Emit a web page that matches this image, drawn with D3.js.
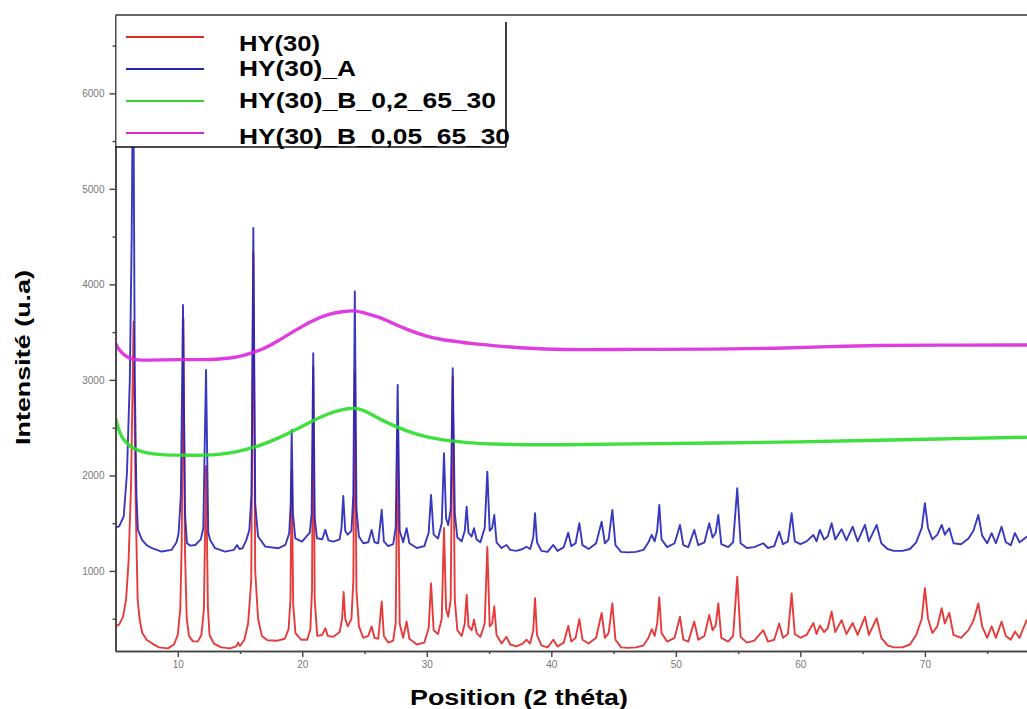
<!DOCTYPE html>
<html>
<head>
<meta charset="utf-8">
<script src="https://cdn.jsdelivr.net/npm/d3@7"></script>
<style>
  html, body { margin: 0; padding: 0; background: #fff; }
  svg { display: block; }
  text { font-family: "Liberation Sans", Arial, sans-serif; }
</style>
</head>
<body>
<svg id="chart" width="1027" height="709"></svg>
<script>
// XRD patterns, 2θ (degrees) vs intensity (a.u.)
const seriesNames = ["HY(30)", "HY(30)_A", "HY(30)_B_0,2_65_30", "HY(30)_B_0,05_65_30"];
const seriesColors = ["#e32626", "#2424b8", "#2bdc2b", "#dc28dc"];

const hy30 = [
  [5.0,420],[5.3,440],[5.6,520],[5.85,700],[6.05,1100],[6.25,1900],[6.45,3610],[6.62,1700],[6.78,700],[6.95,480],
  [7.15,350],[7.5,280],[7.95,240],[8.5,200],[9.2,190],[9.7,230],[10.0,330],[10.2,600],[10.32,1300],[10.45,3640],
  [10.58,1200],[10.72,500],[10.9,320],[11.2,265],[11.6,260],[11.9,330],[12.1,600],[12.27,2100],[12.42,620],[12.55,330],
  [12.9,240],[13.5,200],[14.2,190],[14.7,210],[14.85,250],[15.0,215],[15.35,280],[15.65,450],[15.9,900],[16.07,4330],
  [16.22,1000],[16.45,500],[16.75,320],[17.2,275],[18.0,270],[18.6,290],[18.9,390],[19.05,700],[19.15,2050],[19.27,650],
  [19.45,350],[19.9,280],[20.4,280],[20.65,390],[20.78,800],[20.88,3140],[21.0,700],[21.2,320],[21.6,330],[21.85,400],
  [22.05,320],[22.5,310],[23.0,360],[23.2,500],[23.32,780],[23.45,500],[23.65,420],[23.95,500],[24.1,900],[24.22,3090],
  [24.35,800],[24.55,420],[24.9,300],[25.3,320],[25.57,420],[25.8,300],[26.1,290],[26.38,680],[26.55,320],[26.9,250],
  [27.3,270],[27.5,450],[27.66,2480],[27.82,450],[28.1,300],[28.38,470],[28.6,290],[29.2,230],[29.8,250],[30.15,400],
  [30.34,870],[30.55,380],[30.9,340],[31.2,500],[31.38,1450],[31.55,600],[31.72,520],[31.92,700],[32.08,3030],[32.25,700],
  [32.45,380],[32.8,320],[33.05,450],[33.2,750],[33.35,420],[33.6,380],[33.79,490],[34.0,350],[34.3,310],[34.65,450],
  [34.86,1250],[35.05,420],[35.25,450],[35.42,630],[35.6,330],[36.0,240],[36.4,310],[36.7,230],[37.2,210],[37.7,240],
  [38.0,280],[38.3,240],[38.55,380],[38.69,715],[38.85,330],[39.2,220],[39.7,200],[40.16,280],[40.5,210],[41.0,250],
  [41.36,425],[41.6,260],[41.95,300],[42.25,495],[42.5,280],[43.0,240],[43.6,300],[44.04,560],[44.3,300],[44.6,350],
  [44.9,660],[45.15,280],[45.6,200],[46.2,195],[46.8,200],[47.4,220],[47.8,300],[48.06,390],[48.3,320],[48.5,450],
  [48.67,725],[48.85,350],[49.3,260],[49.9,300],[50.33,520],[50.6,280],[51.0,260],[51.48,470],[51.8,280],[52.3,320],
  [52.68,540],[52.95,380],[53.2,430],[53.41,660],[53.65,300],[54.2,260],[54.6,320],[54.93,940],[55.2,310],[55.7,250],
  [56.3,270],[57.02,380],[57.4,260],[57.9,280],[58.3,450],[58.6,300],[59.0,340],[59.3,765],[59.55,340],[60.0,300],
  [60.5,330],[61.04,455],[61.3,340],[61.57,430],[61.9,360],[62.2,400],[62.51,575],[62.8,360],[63.31,485],[63.7,340],
  [64.2,455],[64.6,330],[65.19,520],[65.5,330],[66.13,505],[66.5,300],[67.0,220],[67.5,200],[68.2,200],[68.8,230],
  [69.3,330],[69.75,500],[70.0,820],[70.25,500],[70.6,350],[71.0,420],[71.35,610],[71.6,450],[71.96,560],[72.3,330],
  [72.9,300],[73.5,380],[73.9,480],[74.29,660],[74.6,420],[75.0,300],[75.36,420],[75.7,300],[76.16,470],[76.5,320],
  [76.9,280],[77.23,365],[77.6,300],[77.9,400],[78.2,490]
];

const hy30A = [
  [5.0,1450],[5.3,1470],[5.66,1570],[5.92,2025],[6.15,3000],[6.3,4500],[6.42,6600],[6.55,3000],[6.68,1800],[6.8,1430],
  [7.13,1325],[7.5,1270],[7.93,1238],[8.7,1203],[9.5,1220],[9.9,1300],[10.07,1395],[10.25,1800],[10.42,3785],[10.58,1600],
  [10.74,1290],[11.0,1265],[11.41,1272],[11.85,1330],[12.05,1450],[12.27,3105],[12.45,1400],[12.6,1325],[13.0,1238],[13.8,1203],
  [14.5,1220],[14.76,1272],[14.95,1230],[15.2,1238],[15.5,1320],[15.75,1430],[15.92,1800],[16.07,4590],[16.22,1700],[16.45,1360],
  [17.03,1255],[18.1,1238],[18.64,1272],[18.95,1395],[19.07,1700],[19.15,2476],[19.25,1600],[19.44,1342],[19.98,1307],[20.6,1400],
  [20.75,1600],[20.88,3280],[21.0,1550],[21.18,1342],[21.6,1330],[21.85,1430],[22.1,1320],[22.5,1307],[23.0,1330],[23.15,1450],
  [23.29,1785],[23.45,1420],[23.65,1380],[23.95,1420],[24.1,1800],[24.22,3925],[24.35,1650],[24.55,1360],[24.9,1290],[25.3,1300],
  [25.57,1430],[25.8,1300],[26.1,1290],[26.38,1640],[26.55,1310],[26.9,1260],[27.3,1280],[27.5,1450],[27.66,2948],[27.82,1420],
  [28.1,1300],[28.38,1447],[28.6,1290],[29.2,1240],[29.8,1260],[30.15,1400],[30.34,1796],[30.55,1380],[30.9,1340],[31.2,1500],
  [31.38,2233],[31.55,1550],[31.72,1480],[31.92,1650],[32.08,3122],[32.25,1600],[32.45,1350],[32.8,1310],[33.05,1420],[33.2,1673],
  [33.35,1400],[33.6,1360],[33.79,1447],[34.0,1330],[34.3,1300],[34.65,1450],[34.86,2040],[35.05,1420],[35.25,1450],[35.42,1586],
  [35.6,1300],[36.0,1240],[36.4,1272],[36.7,1220],[37.2,1210],[37.7,1230],[38.0,1254],[38.3,1230],[38.55,1350],[38.69,1604],
  [38.85,1300],[39.2,1210],[39.7,1200],[40.16,1272],[40.5,1210],[41.0,1250],[41.36,1401],[41.6,1260],[41.95,1290],[42.25,1500],
  [42.5,1270],[43.0,1230],[43.6,1290],[44.04,1516],[44.3,1290],[44.6,1330],[44.9,1639],[45.15,1270],[45.6,1200],[46.2,1195],
  [46.8,1200],[47.4,1220],[47.8,1300],[48.06,1377],[48.3,1310],[48.5,1420],[48.67,1691],[48.85,1330],[49.3,1250],[49.9,1290],
  [50.33,1482],[50.6,1270],[51.0,1250],[51.48,1430],[51.8,1270],[52.3,1300],[52.68,1500],[52.95,1350],[53.2,1400],[53.41,1586],
  [53.65,1280],[54.2,1250],[54.6,1300],[54.93,1866],[55.2,1290],[55.7,1240],[56.3,1250],[57.02,1290],[57.4,1240],[57.9,1260],
  [58.3,1411],[58.6,1280],[59.0,1310],[59.3,1604],[59.55,1310],[60.0,1280],[60.5,1310],[61.04,1377],[61.3,1310],[61.57,1430],
  [61.9,1330],[62.2,1360],[62.51,1500],[62.8,1330],[63.31,1437],[63.7,1320],[64.2,1464],[64.6,1310],[65.19,1482],[65.5,1310],
  [66.13,1482],[66.5,1290],[67.0,1230],[67.5,1210],[68.2,1210],[68.8,1230],[69.3,1300],[69.75,1450],[70.0,1709],[70.25,1450],
  [70.6,1330],[71.0,1380],[71.35,1482],[71.6,1380],[71.96,1447],[72.3,1290],[72.9,1280],[73.5,1340],[73.9,1420],[74.29,1586],
  [74.6,1370],[75.0,1290],[75.36,1395],[75.7,1290],[76.16,1464],[76.5,1300],[76.9,1270],[77.23,1397],[77.6,1300],[77.9,1330],
  [78.2,1360]
];

const hy30B02 = [
  [5.0,2600],[5.26,2476],[5.5,2400],[5.79,2354],[6.33,2285],[7.39,2233],[8.73,2215],[10.07,2212],[11.41,2210],[12.75,2212],
  [14.09,2230],[15.42,2267],[16.76,2320],[18.1,2390],[19.44,2476],[20.78,2570],[22.12,2650],[23.16,2690],[24.23,2710],[25.0,2680],
  [25.84,2617],[27.18,2529],[28.51,2459],[29.85,2406],[31.19,2372],[32.53,2354],[33.87,2337],[35.21,2330],[37.88,2320],[40.56,2320],
  [46.58,2330],[53.28,2340],[60.0,2350],[65.32,2366],[70.67,2380],[78.2,2400]
];

const hy30B005 = [
  [5.0,3384],[5.26,3314],[5.79,3250],[6.33,3209],[7.39,3205],[10.07,3214],[12.75,3210],[14.5,3230],[15.42,3262],[16.76,3314],
  [18.1,3410],[19.44,3520],[20.78,3620],[22.12,3690],[23.2,3715],[24.23,3730],[25.0,3700],[26.1,3663],[27.3,3590],[28.5,3524],
  [29.85,3460],[31.2,3419],[32.53,3400],[33.33,3384],[35.21,3360],[37.88,3332],[40.56,3314],[46.58,3320],[53.28,3321],[58.0,3330],
  [62.64,3350],[66.0,3362],[70.67,3364],[78.2,3366]
];

const xMajorTicks = [10, 20, 30, 40, 50, 60, 70];
const xMinorTicks = [15, 25, 35, 45, 55, 65, 75];
const yMajorTicks = [1000, 2000, 3000, 4000, 5000, 6000];
const yMinorTicks = [500, 1500, 2500, 3500, 4500, 5500, 6500];
const xTitle = "Position (2 théta)";
const yTitle = "Intensité (u.a)";

const svg = d3.select("#chart");
const plot = { left: 115.5, right: 1027, top: 15, bottom: 651 };

const x = d3.scaleLinear().domain([5, 78.2]).range([plot.left, plot.right]);
const y = d3.scaleLinear().domain([162, 6820]).range([plot.bottom, plot.top]);

svg.append("defs").append("clipPath").attr("id", "plotClip")
  .append("rect")
  .attr("x", plot.left).attr("y", plot.top)
  .attr("width", plot.right - plot.left).attr("height", plot.bottom - plot.top);

// spectra
const line = d3.line().x(d => x(d[0])).y(d => y(d[1]));
const smooth = d3.line().curve(d3.curveBasis).x(d => x(d[0])).y(d => y(d[1]));

const layers = [
  { data: hy30, gen: line, w: 1.9 },
  { data: hy30A, gen: line, w: 1.9 },
  { data: hy30B02, gen: smooth, w: 3.4 },
  { data: hy30B005, gen: smooth, w: 3.4 }
];
const g = svg.append("g").attr("clip-path", "url(#plotClip)");
layers.forEach((l, i) => {
  g.append("path")
    .attr("d", l.gen(l.data))
    .attr("fill", "none")
    .attr("stroke", seriesColors[i])
    .attr("stroke-width", l.w)
    .attr("stroke-linejoin", "round")
    .attr("stroke-opacity", 0.9);
});

// axes
const axisColor = "#444";
const labelColor = "#777";

const xAxis = d3.axisBottom(x).tickValues(xMajorTicks).tickSize(6).tickSizeOuter(0).tickPadding(4).tickFormat(d3.format("d"));
const xg = svg.append("g").attr("transform", `translate(0,${plot.bottom})`).call(xAxis);
const xMinor = d3.axisBottom(x).tickValues(xMinorTicks).tickSize(3).tickSizeOuter(0).tickFormat("");
const xmg = svg.append("g").attr("transform", `translate(0,${plot.bottom})`).call(xMinor);

const yAxis = d3.axisLeft(y).tickValues(yMajorTicks).tickSize(6).tickSizeOuter(0).tickPadding(5).tickFormat(d3.format("d"));
const yg = svg.append("g").attr("transform", `translate(${plot.left},0)`).call(yAxis);
const yMinor = d3.axisLeft(y).tickValues(yMinorTicks).tickSize(3).tickSizeOuter(0).tickFormat("");
const ymg = svg.append("g").attr("transform", `translate(${plot.left},0)`).call(yMinor);

[xg, xmg, yg, ymg].forEach(a => {
  a.select(".domain").attr("stroke", axisColor).attr("stroke-width", 1.6);
  a.selectAll(".tick line").attr("stroke", axisColor).attr("stroke-width", 1.4);
  a.selectAll(".tick text").attr("fill", labelColor).attr("font-size", 10)
    .attr("font-family", "'Liberation Sans', Arial, sans-serif");
});

// top frame line
svg.append("line")
  .attr("x1", plot.left).attr("x2", plot.right)
  .attr("y1", plot.top).attr("y2", plot.top)
  .attr("stroke", "#333").attr("stroke-width", 1.6);

// legend
const legend = { x0: plot.left, x1: 506, y0: plot.top, y1: 147 };
svg.append("rect")
  .attr("x", legend.x0 + 1).attr("y", legend.y0 + 1)
  .attr("width", legend.x1 - legend.x0 - 1).attr("height", legend.y1 - legend.y0 - 1)
  .attr("fill", "#fff");
svg.append("line").attr("x1", legend.x1).attr("x2", legend.x1)
  .attr("y1", 22).attr("y2", legend.y1).attr("stroke", "#111").attr("stroke-width", 1.6);
svg.append("line").attr("x1", legend.x0).attr("x2", legend.x1)
  .attr("y1", legend.y1).attr("y2", legend.y1).attr("stroke", "#111").attr("stroke-width", 1.6);

const legendRows = [
  { lineY: 37, base: 50.5, len: 81 },
  { lineY: 69, base: 76, len: 117 },
  { lineY: 101, base: 108, len: 257 },
  { lineY: 133, base: 143.5, len: 271 }
];
const lg = svg.append("g");
seriesNames.forEach((name, i) => {
  const r = legendRows[i];
  lg.append("line")
    .attr("x1", 126).attr("x2", 204)
    .attr("y1", r.lineY).attr("y2", r.lineY)
    .attr("stroke", seriesColors[i]).attr("stroke-width", 2);
  lg.append("text")
    .attr("x", 239).attr("y", r.base)
    .attr("font-size", 22.5).attr("font-weight", "bold").attr("fill", "#000")
    .attr("textLength", r.len).attr("lengthAdjust", "spacingAndGlyphs")
    .text(name);
});

// axis titles
svg.append("text")
  .attr("x", 410).attr("y", 705)
  .attr("font-size", 22).attr("font-weight", "bold").attr("fill", "#000")
  .attr("textLength", 218).attr("lengthAdjust", "spacingAndGlyphs")
  .text(xTitle);

svg.append("text")
  .attr("transform", "translate(30,445) rotate(-90)")
  .attr("font-size", 20).attr("font-weight", "bold").attr("fill", "#000")
  .attr("textLength", 175).attr("lengthAdjust", "spacingAndGlyphs")
  .text(yTitle);
</script>
</body>
</html>
